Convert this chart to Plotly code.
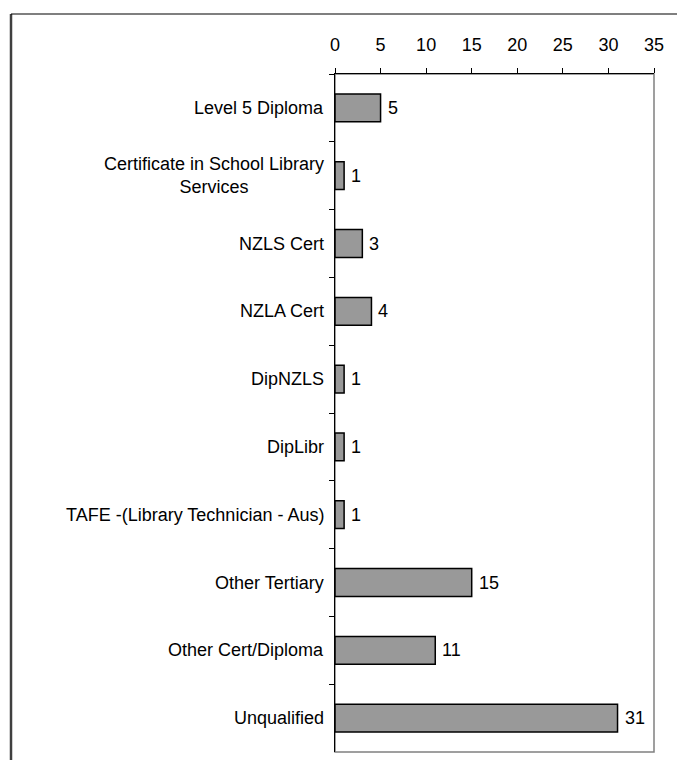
import plotly.graph_objects as go

# Library qualifications held by respondents
categories = [
    "Level 5 Diploma",
    "Certificate in School Library<br>Services",
    "NZLS Cert",
    "NZLA Cert",
    "DipNZLS",
    "DipLibr",
    "TAFE -(Library Technician - Aus)",
    "Other Tertiary",
    "Other Cert/Diploma",
    "Unqualified",
]
counts = [5, 1, 3, 4, 1, 1, 1, 15, 11, 31]
tick_values = [0, 5, 10, 15, 20, 25, 30, 35]

FONT = "Liberation Sans, Arial, sans-serif"
FS = 18
W, H = 677, 760
L, T, R, B = 335, 74, 23, 8
pw, ph = W - L - R, H - T - B

fig = go.Figure(
    go.Bar(
        y=categories,
        x=counts,
        orientation="h",
        marker=dict(color="#999999", line=dict(color="#000000", width=1.5)),
        width=0.41,
        hoverinfo="x+y",
    )
)

# value labels to the right of each bar
for c, v in zip(categories, counts):
    fig.add_annotation(
        x=v, y=c, xref="x", yref="y", text=str(v), showarrow=False,
        xanchor="left", xshift=5, font=dict(family=FONT, size=FS, color="#000000"),
    )

# category labels, centred lines, right-aligned to the axis
for c in categories:
    fig.add_annotation(
        x=-9 / pw, y=c, xref="paper", yref="y", text=c, showarrow=False,
        xanchor="right", align="center",
        font=dict(family=FONT, size=FS, color="#000000"),
    )

shapes = [
    # plot area frame (grey right/bottom)
    dict(type="rect", xref="paper", yref="paper", x0=0, x1=1, y0=0, y1=1,
         line=dict(color="#808080", width=1.5), layer="below"),
    # outer chart frame, left and top edges
    dict(type="line", xref="paper", yref="paper",
         x0=(11 - L) / pw, x1=(11 - L) / pw,
         y0=1 + (T - 14) / ph, y1=-(B + 10) / ph,
         line=dict(color="#404040", width=2.5)),
    dict(type="line", xref="paper", yref="paper",
         x0=(11 - L) / pw, x1=(W + 10 - L) / pw,
         y0=1 + (T - 14) / ph, y1=1 + (T - 14) / ph,
         line=dict(color="#000000", width=1.2)),
]

fig.update_layout(
    width=W, height=H,
    margin=dict(l=L, r=R, t=T, b=B, pad=0),
    paper_bgcolor="white", plot_bgcolor="white",
    showlegend=False,
    shapes=shapes,
    font=dict(family=FONT, size=FS, color="#000000"),
    xaxis=dict(
        side="top", range=[0, 35], tickvals=tick_values,
        ticks="outside", ticklen=5, tickwidth=1, tickcolor="#000000",
        showline=True, linecolor="#000000", linewidth=1.2,
        showgrid=False, zeroline=False, fixedrange=True,
        ticklabelstandoff=10,
        tickfont=dict(family=FONT, size=FS, color="#000000"),
    ),
    yaxis=dict(
        autorange="reversed", type="category",
        tickson="boundaries", ticks="outside", ticklen=5, tickwidth=1,
        tickcolor="#000000", showticklabels=False,
        showline=True, linecolor="#000000", linewidth=1.2,
        showgrid=False, zeroline=False, fixedrange=True,
    ),
)

fig.write_html("out.html")
